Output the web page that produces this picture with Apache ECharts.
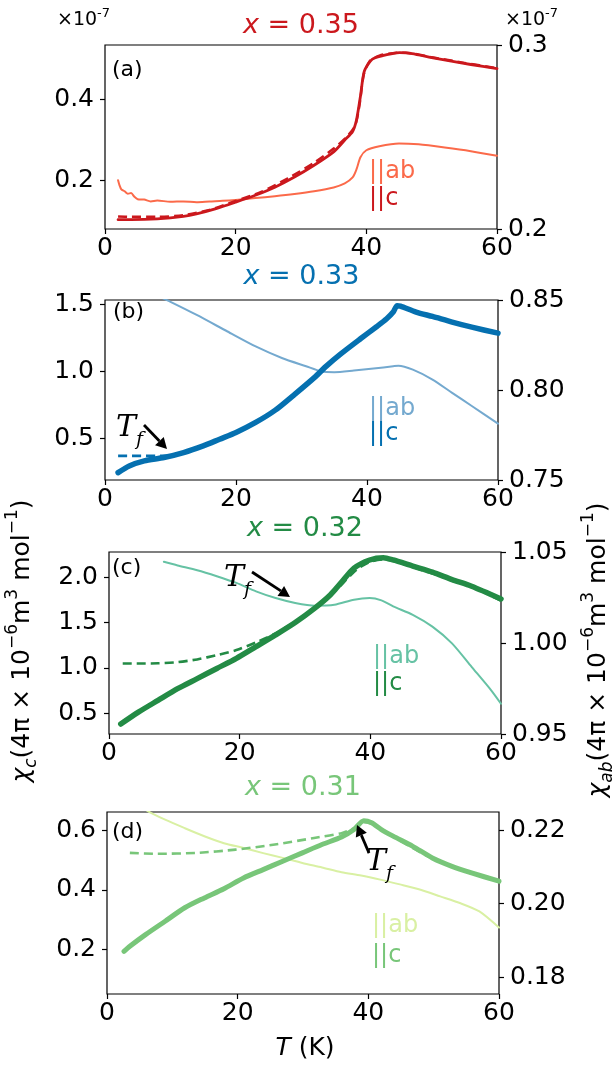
<!DOCTYPE html>
<html>
<head>
<meta charset="utf-8">
<script src="https://cdn.jsdelivr.net/npm/echarts@6/dist/echarts.min.js"></script>
<style>
  html, body { margin: 0; padding: 0; background: #fff; }
  #chart { width: 616px; height: 1066px; }
</style>
</head>
<body>
<div id="chart"></div>
<script>
// ---------- (a) x = 0.35 ----------
const tA_c  = [2, 4, 8, 12, 14, 17, 20, 23, 26, 29, 32, 35, 36.7, 37.9, 38.5, 39.1, 39.7, 40.9, 42.5, 44, 45.1, 47, 50, 53, 56, 60];
const vA_c  = [0.103, 0.103, 0.105, 0.111, 0.117, 0.130, 0.146, 0.163, 0.183, 0.208, 0.237, 0.270, 0.299, 0.320, 0.349, 0.407, 0.469, 0.498, 0.507, 0.512, 0.514, 0.512, 0.502, 0.493, 0.485, 0.475];
const tA_cd = [2, 4, 8, 12, 16, 20, 24, 28, 32, 35, 37, 38.3, 39, 39.6, 40.5, 42, 44, 46, 50, 55, 60];
const vA_cd = [0.111, 0.110, 0.110, 0.114, 0.127, 0.149, 0.172, 0.205, 0.243, 0.278, 0.307, 0.335, 0.390, 0.460, 0.493, 0.507, 0.513, 0.514, 0.503, 0.489, 0.476];
const tA_ab = [2, 2.2, 2.5, 3, 3.5, 4, 4.5, 5, 6, 7, 8, 10, 12, 14, 16, 18, 20, 23, 26, 29, 32, 35, 36.7, 37.9, 38.5, 39.1, 40, 42, 45, 48, 52, 56, 60];
const vA_ab = [0.2265, 0.2240, 0.2215, 0.2205, 0.2192, 0.2195, 0.2175, 0.2162, 0.2160, 0.2150, 0.2155, 0.2148, 0.2150, 0.2146, 0.2150, 0.2153, 0.2158, 0.2168, 0.2178, 0.2190, 0.2205, 0.2226, 0.2248, 0.2280, 0.2325, 0.2390, 0.2428, 0.2450, 0.2465, 0.2460, 0.2443, 0.2423, 0.2398];

// ---------- (b) x = 0.33 ----------
const tB_c  = [2, 3.7, 6, 9, 12, 15, 17.5, 20, 23, 26, 29, 32, 33.7, 36, 39, 41.5, 43, 44, 44.6, 45.1, 47.5, 50, 53, 56, 60];
const vB_c  = [0.245, 0.295, 0.333, 0.358, 0.395, 0.445, 0.495, 0.545, 0.620, 0.712, 0.832, 0.957, 1.037, 1.132, 1.245, 1.337, 1.395, 1.445, 1.492, 1.490, 1.445, 1.412, 1.370, 1.332, 1.287];
const tB_cd = [2, 4, 6, 8, 10, 11];
const vB_cd = [0.370, 0.370, 0.370, 0.370, 0.372, 0.378];
const tB_ab = [8.5, 10, 14, 18.7, 23, 27, 30.7, 33, 35, 38, 41, 44, 44.8, 47, 50, 53, 56, 60];
const vB_ab = [0.8515, 0.849, 0.8417, 0.8325, 0.8242, 0.8178, 0.8132, 0.8104, 0.8099, 0.8108, 0.8119, 0.8132, 0.8135, 0.8113, 0.8058, 0.7984, 0.7911, 0.7813];

// ---------- (c) x = 0.32 ----------
const tC_c  = [1.8, 4.5, 7.5, 10.5, 13.5, 16.5, 19.5, 22.5, 25.5, 28.5, 31.5, 33.9, 35.7, 37.5, 39.9, 42, 43.5, 46.5, 49.5, 52.5, 55.5, 60];
const vC_c  = [0.38, 0.511, 0.641, 0.770, 0.881, 0.993, 1.104, 1.233, 1.363, 1.500, 1.659, 1.807, 1.954, 2.100, 2.190, 2.215, 2.190, 2.122, 2.056, 1.974, 1.900, 1.760];
const tC_cd = [2.1, 5, 7.5, 10.5, 13.5, 16.5, 19.5, 22.5, 25.5, 28.5, 31.5, 34, 36, 38, 40, 42, 44, 47, 50, 53, 56, 60];
const vC_cd = [1.048, 1.048, 1.050, 1.063, 1.093, 1.140, 1.196, 1.280, 1.380, 1.510, 1.650, 1.800, 1.950, 2.090, 2.170, 2.195, 2.170, 2.100, 2.030, 1.955, 1.880, 1.740];
const tC_ab = [8.4, 10.5, 13.5, 16.5, 19.5, 22.5, 25.5, 28.5, 31.5, 34.5, 37.5, 39.9, 41.7, 43.5, 46.5, 49.5, 52.5, 55.5, 58.5, 60];
const vC_ab = [1.0446, 1.0426, 1.0400, 1.0367, 1.0330, 1.0284, 1.0247, 1.0220, 1.0205, 1.0210, 1.0238, 1.0247, 1.0234, 1.0201, 1.0155, 1.0090, 0.9998, 0.9869, 0.9740, 0.9666];

// ---------- (d) x = 0.31 ----------
const tD_c  = [2.6, 3.5, 5.9, 8.9, 11.9, 14.9, 17.9, 20.9, 23.9, 26.9, 29.9, 32.9, 35.9, 37.8, 39.3, 40.5, 42, 43.8, 46.8, 49.8, 52.8, 55.8, 60];
const vD_c  = [0.194, 0.211, 0.250, 0.295, 0.340, 0.373, 0.404, 0.440, 0.468, 0.496, 0.524, 0.552, 0.577, 0.602, 0.632, 0.625, 0.602, 0.580, 0.546, 0.507, 0.479, 0.457, 0.429];
const tD_cd = [3.5, 7.7, 13.7, 19.7, 25.7, 31.7, 36, 38.4, 39.3, 40.5, 43.8, 49.8, 55.8, 60];
const vD_cd = [0.524, 0.521, 0.524, 0.535, 0.552, 0.574, 0.591, 0.613, 0.628, 0.622, 0.578, 0.505, 0.455, 0.428];
const tD_ab = [6, 6.8, 8.9, 11.9, 14.9, 17.9, 20.9, 23.9, 26.9, 29.9, 32.9, 35.9, 38.9, 42, 45, 48, 51, 54, 57, 60];
const vD_ab = [0.2255, 0.2247, 0.2229, 0.2206, 0.2184, 0.2165, 0.2152, 0.2138, 0.2125, 0.2111, 0.2099, 0.2086, 0.2077, 0.2065, 0.2052, 0.2038, 0.2020, 0.2002, 0.1979, 0.1935];

// ---------- axis ticks ----------
const xTicks   = [0, 20, 40, 60];
const ticksAL  = [0.2, 0.4],            ticksAR = [0.2, 0.3];
const ticksBL  = [0.5, 1.0, 1.5],       ticksBR = [0.75, 0.80, 0.85];
const ticksCL  = [0.5, 1.0, 1.5, 2.0],  ticksCR = [0.95, 1.00, 1.05];
const ticksDL  = [0.2, 0.4, 0.6],       ticksDR = [0.18, 0.20, 0.22];

const titles = ['0.35', '0.33', '0.32', '0.31'];
const panelTags = ['(a)', '(b)', '(c)', '(d)'];

// colours per panel: [||c, ||ab]
const colours = [
  ['#cb181d', '#fb6a4a'],
  ['#0570b0', '#74a9cf'],
  ['#238b45', '#66c2a4'],
  ['#78c679', '#d9f0a3']
];

const FONT = 'DejaVu Sans';
const TICK_FS = 25;

const grids = [
  { left: 105, top: 45,  width: 392, height: 184 },
  { left: 105, top: 300, width: 393, height: 180 },
  { left: 109, top: 552, width: 392, height: 182 },
  { left: 107, top: 812, width: 392, height: 182 }
];

function pairs(t, v) { return t.map((x, i) => [x, v[i]]); }

function xAxis(gi) {
  return {
    type: 'value', gridIndex: gi, min: 0, max: 60, interval: 20,
    axisLine: { show: false }, splitLine: { show: false },
    axisTick: { show: true, length: 5, lineStyle: { color: '#000', width: 1.2 }, customValues: xTicks },
    axisLabel: { customValues: xTicks, color: '#000', fontSize: TICK_FS, fontFamily: FONT, margin: 7 }
  };
}

function yAxis(gi, pos, min, max, ticks, dec) {
  return {
    type: 'value', gridIndex: gi, position: pos, min: min, max: max,
    axisLine: { show: false }, splitLine: { show: false },
    axisTick: { show: true, length: 5, lineStyle: { color: '#000', width: 1.2 }, customValues: ticks },
    axisLabel: { customValues: ticks, formatter: v => v.toFixed(dec), color: '#000',
                 fontSize: TICK_FS, fontFamily: FONT, margin: 11 }
  };
}

function line(ax, t, v, color, width, dashed, z) {
  return {
    type: 'line', xAxisIndex: ax[0], yAxisIndex: ax[1], data: pairs(t, v),
    showSymbol: false, symbol: 'none', smooth: 0.25, clip: true, silent: true,
    lineStyle: { color: color, width: width, type: dashed ? [9, 5] : 'solid', cap: dashed ? 'butt' : 'round', join: 'round' },
    z: z
  };
}

const series = [
  // (a)
  line([0, 1], tA_ab, vA_ab, colours[0][1], 2, false, 2),
  line([0, 0], tA_c,  vA_c,  colours[0][0], 2.8, false, 3),
  line([0, 0], tA_cd, vA_cd, colours[0][0], 2.5, true, 4),
  // (b)
  line([1, 3], tB_ab, vB_ab, colours[1][1], 2, false, 2),
  line([1, 2], tB_cd, vB_cd, colours[1][0], 2.6, true, 3),
  line([1, 2], tB_c,  vB_c,  colours[1][0], 5.5, false, 4),
  // (c)
  line([2, 5], tC_ab, vC_ab, colours[2][1], 2, false, 2),
  line([2, 4], tC_cd, vC_cd, colours[2][0], 2.6, true, 3),
  line([2, 4], tC_c,  vC_c,  colours[2][0], 5.5, false, 4),
  // (d)
  line([3, 7], tD_ab, vD_ab, colours[3][1], 2, false, 2),
  line([3, 6], tD_cd, vD_cd, colours[3][0], 2.6, true, 3),
  line([3, 6], tD_c,  vD_c,  colours[3][0], 5, false, 4)
];

function text(x, y, str, extra) {
  return {
    type: 'text', x: x, y: y, silent: true, z: 50,
    style: Object.assign({
      text: str, fontFamily: FONT, fontSize: 21, fill: '#000',
      align: 'left', verticalAlign: 'middle', textAlign: 'left', textVerticalAlign: 'middle'
    }, extra || {})
  };
}

function arrow(x1, y1, x2, y2) {
  const a = Math.atan2(y2 - y1, x2 - x1), L = 11, W = 6;
  const bx = x2 - L * Math.cos(a), by = y2 - L * Math.sin(a);
  const px = -Math.sin(a), py = Math.cos(a);
  return [
    { type: 'line', silent: true, z: 50, shape: { x1: x1, y1: y1, x2: bx, y2: by }, style: { stroke: '#000', lineWidth: 2.8 } },
    { type: 'polygon', silent: true, z: 50, shape: { points: [[x2, y2], [bx + W * px, by + W * py], [bx - W * px, by - W * py]] }, style: { fill: '#000' } }
  ];
}

function tf(x, y) {
  return text(x, y, '{t|T}{f|f}', {
    rich: {
      t: { fontFamily: 'DejaVu Serif', fontStyle: 'italic', fontSize: 30, fill: '#000', lineHeight: 44 },
      f: { fontFamily: 'DejaVu Serif', fontStyle: 'italic', fontSize: 19, fill: '#000', verticalAlign: 'bottom' }
    }
  });
}

const titleY = [26, 277, 529, 788];
const labY = [[172, 199], [409, 434], [657, 684], [926, 956]];
const labX = [369, 369, 373, 372];
const tagPos = [[112, 70], [113, 312], [112, 568], [112, 832]];

const graphic = [];
for (let i = 0; i < 4; i++) {
  const g = grids[i];
  graphic.push(text(g.left + g.width / 2, titleY[i], '{i|x}{n| = ' + titles[i] + '}', {
    align: 'center', textAlign: 'center',
    rich: {
      i: { fontFamily: FONT, fontStyle: 'italic', fontSize: 27, fill: colours[i][0] },
      n: { fontFamily: FONT, fontSize: 27, fill: colours[i][0] }
    }
  }));
  graphic.push(text(tagPos[i][0], tagPos[i][1], panelTags[i], { fontSize: 22 }));
  graphic.push(text(labX[i], labY[i][0], '||ab', { fontSize: 24, fill: colours[i][1] }));
  graphic.push(text(labX[i], labY[i][1], '||c', { fontSize: 24, fill: colours[i][0] }));
}
// offset multipliers of panel (a)
const mult = {
  n: { fontFamily: FONT, fontSize: 19, fill: '#000', lineHeight: 26 },
  p: { fontFamily: FONT, fontSize: 13, fill: '#000', verticalAlign: 'top' }
};
graphic.push(text(57, 20, '{n|×10}{p|-7}', { rich: mult }));
graphic.push(text(505, 20, '{n|×10}{p|-7}', { rich: mult }));

// T_f markers and arrows
graphic.push(tf(116, 428));
graphic.push(...arrow(144, 425, 167, 449));
graphic.push(tf(224, 578));
graphic.push(...arrow(252, 572, 290, 597));
graphic.push(tf(366, 862));
graphic.push(...arrow(369, 853, 357, 825));

// axis titles
const nameRich = {
  g: { fontFamily: FONT, fontStyle: 'italic', fontSize: 25, fill: '#000', lineHeight: 36 },
  s: { fontFamily: FONT, fontStyle: 'italic', fontSize: 17, fill: '#000', verticalAlign: 'bottom' },
  n: { fontFamily: FONT, fontSize: 25, fill: '#000', lineHeight: 36 },
  p: { fontFamily: FONT, fontSize: 17, fill: '#000', verticalAlign: 'top' }
};
const nameTail = '{n|(4π × 10}{p|−6}{n|m}{p|3}{n| mol}{p|−1}{n|)}';
graphic.push(Object.assign(text(22, 641, '{g|χ}{s|c}' + nameTail, { align: 'center', textAlign: 'center', rich: nameRich }), { rotation: Math.PI / 2 }));
graphic.push(Object.assign(text(598, 650, '{g|χ}{s|ab}' + nameTail, { align: 'center', textAlign: 'center', rich: nameRich }), { rotation: Math.PI / 2 }));
graphic.push(text(305, 1048, '{i|T}{n| (K)}', {
  align: 'center', textAlign: 'center',
  rich: {
    i: { fontFamily: FONT, fontStyle: 'italic', fontSize: 25, fill: '#000' },
    n: { fontFamily: FONT, fontSize: 25, fill: '#000' }
  }
}));

const chart = echarts.init(document.getElementById('chart'), null, { renderer: 'canvas' });
chart.setOption({
  animation: false,
  backgroundColor: '#fff',
  grid: grids.map(g => Object.assign({ show: true, borderColor: '#000', borderWidth: 1.2, backgroundColor: 'transparent', containLabel: false }, g)),
  xAxis: [0, 1, 2, 3].map(xAxis),
  yAxis: [
    yAxis(0, 'left', 0.08, 0.533, ticksAL, 1),  yAxis(0, 'right', 0.2, 0.3, ticksAR, 1),
    yAxis(1, 'left', 0.19, 1.535, ticksBL, 1),  yAxis(1, 'right', 0.75, 0.85, ticksBR, 2),
    yAxis(2, 'left', 0.27, 2.278, ticksCL, 1),  yAxis(2, 'right', 0.95, 1.05, ticksCR, 2),
    yAxis(3, 'left', 0.051, 0.661, ticksDL, 1), yAxis(3, 'right', 0.1754, 0.225, ticksDR, 2)
  ],
  series: series,
  graphic: graphic
});
</script>
</body>
</html>
